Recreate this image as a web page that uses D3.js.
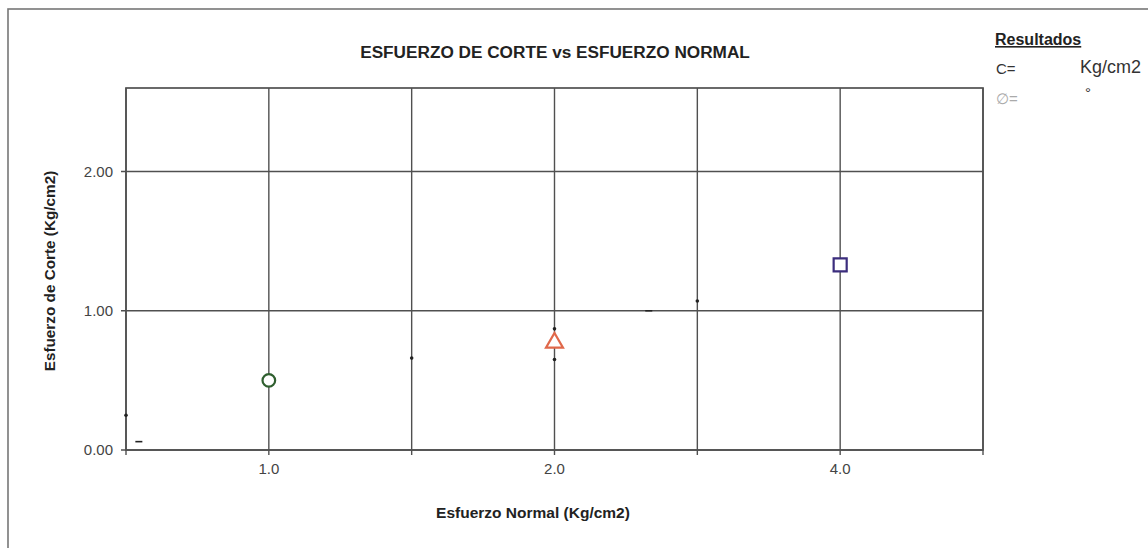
<!DOCTYPE html>
<html><head><meta charset="utf-8">
<script src="https://cdn.jsdelivr.net/npm/d3@7/dist/d3.min.js"></script>
<style>
html,body{margin:0;padding:0;background:#fff;}
svg{display:block;font-family:"Liberation Sans",Arial,sans-serif;}
</style></head>
<body>
<svg id="chart" width="1148" height="548"></svg>
<script>
// ---- data ----
const title = "ESFUERZO DE CORTE vs ESFUERZO NORMAL";
const xTitle = "Esfuerzo Normal (Kg/cm2)";
const yTitle = "Esfuerzo de Corte (Kg/cm2)";
const xCategoryLabels = ["1.0", "2.0", "4.0"];
const xCategoryPos = [1, 2, 3];
const shearValues = [0.50, 0.77, 1.33];
const markerShapes = ["circle", "triangle", "square"];
const markerColors = ["#2f5f2f", "#e0684a", "#3b2d7d"];
const yTickValues = [0, 1, 2];
const xGridValues = [0.5, 1, 1.5, 2, 2.5, 3, 3.5];
const strayX = [0.5, 0.545, 1.5, 2, 2, 2.33, 2.5];
const strayY = [0.25, 0.06, 0.66, 0.87, 0.65, 1.0, 1.07];
const strayKind = ["dot", "dash", "dot", "dot", "dot", "dash", "dot"];
const resultsTitle = "Resultados";
const resultLabels = ["C=", "\u2205="];
const resultUnits = ["Kg/cm2", "\u00b0"];

// ---- layout ----
const svg = d3.select("#chart");
const L = 126, R = 983, T = 88, B = 450;
const x = d3.scaleLinear().domain([0.5, 3.5]).range([L, R]);
const y = d3.scaleLinear().domain([0, 2.6]).range([B, T]);
const grid = "#505050";

// outer frame
svg.append("rect").attr("x", 8).attr("y", 9).attr("width", 1300).attr("height", 700)
  .attr("fill", "#fff").attr("stroke", "#777").attr("stroke-width", 1.6);

// title
svg.append("text").attr("x", 555).attr("y", 58).attr("text-anchor", "middle")
  .attr("font-size", 17.2).attr("font-weight", "bold").attr("fill", "#222").text(title);

// gridlines
svg.append("g").selectAll("line").data(xGridValues).join("line")
  .attr("x1", d => x(d)).attr("x2", d => x(d)).attr("y1", T).attr("y2", B + 5)
  .attr("stroke", grid).attr("stroke-width", 1.4);
svg.append("g").selectAll("line").data(yTickValues).join("line")
  .attr("x1", L - 5).attr("x2", R).attr("y1", d => y(d)).attr("y2", d => y(d))
  .attr("stroke", grid).attr("stroke-width", 1.4);

// plot frame
svg.append("rect").attr("x", L).attr("y", T).attr("width", R - L).attr("height", B - T)
  .attr("fill", "none").attr("stroke", grid).attr("stroke-width", 1.7);

// y axis labels
svg.append("g").selectAll("text").data(yTickValues).join("text")
  .attr("x", 113).attr("y", d => y(d) + 5).attr("text-anchor", "end")
  .attr("font-size", 15).attr("fill", "#444").text(d => d3.format(".2f")(d));

// x axis labels
svg.append("g").selectAll("text").data(xCategoryPos).join("text")
  .attr("x", d => x(d)).attr("y", 474).attr("text-anchor", "middle")
  .attr("font-size", 15).attr("fill", "#444").text((d, i) => xCategoryLabels[i]);

// axis titles
svg.append("text").attr("x", 533).attr("y", 518).attr("text-anchor", "middle")
  .attr("font-size", 15.5).attr("font-weight", "bold").attr("fill", "#222").text(xTitle);
svg.append("text").attr("transform", "translate(55,271) rotate(-90)").attr("text-anchor", "middle")
  .attr("font-size", 15.3).attr("font-weight", "bold").attr("fill", "#222").text(yTitle);

// stray small marks
const strays = strayX.map((v, i) => ({x: v, y: strayY[i], k: strayKind[i]}));
svg.append("g").selectAll("g").data(strays).join(function(enter) {
  return enter.append("g").each(function(d) {
    const g = d3.select(this);
    if (d.k === "dot") {
      g.append("circle").attr("cx", x(d.x)).attr("cy", y(d.y)).attr("r", 1.8).attr("fill", "#222");
    } else {
      g.append("line").attr("x1", x(d.x) - 3.5).attr("x2", x(d.x) + 3.5)
        .attr("y1", y(d.y)).attr("y2", y(d.y)).attr("stroke", "#222").attr("stroke-width", 1.6);
    }
  });
});

// data markers
const symMap = {circle: d3.symbolCircle, triangle: d3.symbolTriangle, square: d3.symbolSquare};
const symSize = {circle: 125, triangle: 125, square: 170};
const pts = xCategoryPos.map((p, i) => ({x: p, y: shearValues[i], s: markerShapes[i], c: markerColors[i]}));
svg.append("g").selectAll("path").data(pts).join("path")
  .attr("transform", d => `translate(${x(d.x)},${y(d.y)})`)
  .attr("d", d => d3.symbol().type(symMap[d.s]).size(symSize[d.s])())
  .attr("fill", "#fff").attr("stroke", d => d.c).attr("stroke-width", 2.2);

// results box
svg.append("text").attr("x", 995).attr("y", 45).attr("font-size", 16).attr("font-weight", "bold")
  .attr("fill", "#222").attr("text-decoration", "underline").text(resultsTitle);
svg.append("g").selectAll("text").data(resultLabels).join("text")
  .attr("x", 996).attr("y", (d, i) => 74 + i * 30).attr("font-size", 15)
  .attr("fill", (d, i) => i === 0 ? "#333" : "#aaa").text(d => d);
svg.append("g").selectAll("text").data(resultUnits).join("text")
  .attr("x", (d, i) => i === 0 ? 1080 : 1085).attr("y", (d, i) => i === 0 ? 73 : 98)
  .attr("font-size", (d, i) => i === 0 ? 18 : 15)
  .attr("fill", "#333").text(d => d);
</script>
</body></html>
